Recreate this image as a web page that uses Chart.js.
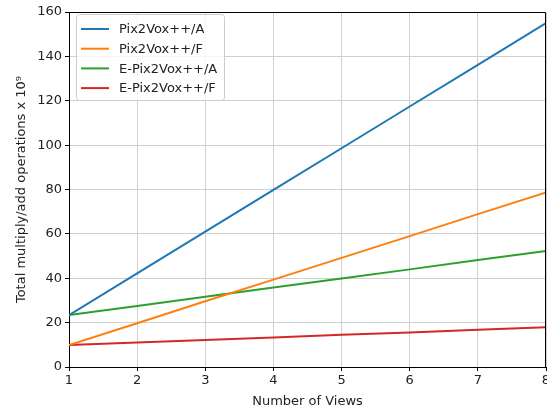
<!DOCTYPE html>
<html><head><meta charset="utf-8">
<script src="https://cdn.jsdelivr.net/npm/chart.js@4"></script>
<style>html,body{margin:0;padding:0;background:#fff}#wrap{width:547px;height:414px}</style>
</head><body><div id="wrap"><canvas id="c" width="547" height="414"></canvas></div>
<script>
const views = [1, 2, 3, 4, 5, 6, 7, 8];
const pix2voxA = [23.4, 42.2, 61.0, 79.8, 98.6, 117.4, 136.2, 155.0];
const pix2voxF = [9.9, 19.7, 29.6, 39.4, 49.2, 59.0, 68.9, 78.7];
const ePix2voxA = [23.4, 27.5, 31.7, 35.8, 39.9, 44.0, 48.2, 52.3];
const ePix2voxF = [9.9, 11.0, 12.2, 13.3, 14.5, 15.6, 16.8, 17.9];
const seriesNames = ['Pix2Vox++/A', 'Pix2Vox++/F', 'E-Pix2Vox++/A', 'E-Pix2Vox++/F'];
const yTicks = [0, 20, 40, 60, 80, 100, 120, 140, 160];

const colors = ['#1f77b4', '#ff7f0e', '#2ca02c', '#d62728'];
const font = 'DejaVu Sans';
const fs = 13;
const toPts = arr => arr.map((v, i) => ({x: views[i], y: v}));

const insideLegend = {
  id: 'insideLegend',
  afterDraw(chart) {
    const ctx = chart.ctx, a = chart.chartArea;
    ctx.save();
    ctx.strokeStyle = '#000'; ctx.lineWidth = 1;
    ctx.beginPath();
    ctx.moveTo(a.left, a.top + 0.5); ctx.lineTo(a.right - 0.5, a.top + 0.5); ctx.lineTo(a.right - 0.5, a.bottom);
    ctx.stroke();
    const x0 = a.left + 7, y0 = a.top + 2, w = 148, h = 86;
    ctx.fillStyle = 'rgba(255,255,255,0.8)';
    ctx.strokeStyle = '#cccccc';
    ctx.beginPath();
    if (ctx.roundRect) ctx.roundRect(x0 + 0.5, y0 + 0.5, w, h, 3); else ctx.rect(x0 + 0.5, y0 + 0.5, w, h);
    ctx.fill(); ctx.stroke();
    ctx.font = fs + 'px "' + font + '"';
    ctx.textBaseline = 'middle';
    chart.data.datasets.forEach((ds, i) => {
      const yy = y0 + 15 + i * 19.7;
      ctx.strokeStyle = ds.borderColor; ctx.lineWidth = 2;
      ctx.beginPath(); ctx.moveTo(x0 + 5, yy); ctx.lineTo(x0 + 33, yy); ctx.stroke();
      ctx.fillStyle = '#222';
      ctx.fillText(ds.label, x0 + 43, yy + 1);
    });
    ctx.restore();
  }
};

new Chart(document.getElementById('c'), {
  type: 'line',
  data: {
    datasets: [pix2voxA, pix2voxF, ePix2voxA, ePix2voxF].map((d, i) => ({
      label: seriesNames[i], data: toPts(d), borderColor: colors[i], backgroundColor: colors[i],
      borderWidth: 2, pointRadius: 0, tension: 0, fill: false
    }))
  },
  options: {
    responsive: false, animation: false,
    layout: {padding: {left: 0, top: 12, right: 1, bottom: 0}},
    plugins: {legend: {display: false}, tooltip: {enabled: false}},
    scales: {
      x: {
        type: 'linear', min: 1, max: 8,
        afterFit(s) { s.height = 47; s.paddingRight = 0; s.paddingLeft = 0; },
        ticks: {stepSize: 1, color: '#222', font: {family: font, size: fs}, padding: 2, maxRotation: 0},
        grid: {color: '#d0d0d0', lineWidth: 1, tickColor: '#000', tickLength: 4},
        border: {display: true, color: '#000', width: 1},
        title: {display: true, text: 'Number of Views', color: '#222', font: {family: font, size: fs}, padding: {top: 2, bottom: 5}}
      },
      y: {
        min: 0, max: 160,
        afterFit(s) { s.width = 69; },
        afterBuildTicks(s) { s.ticks = yTicks.map(v => ({value: v})); },
        ticks: {color: '#222', font: {family: font, size: fs}, padding: 3},
        grid: {color: '#d0d0d0', lineWidth: 1, tickColor: '#000', tickLength: 4},
        border: {display: true, color: '#000', width: 1},
        title: {display: true, text: 'Total multiply/add operations x 10⁹', color: '#222', font: {family: font, size: fs}, padding: {top: 14, bottom: 0}}
      }
    }
  },
  plugins: [insideLegend]
});
</script></body></html>
